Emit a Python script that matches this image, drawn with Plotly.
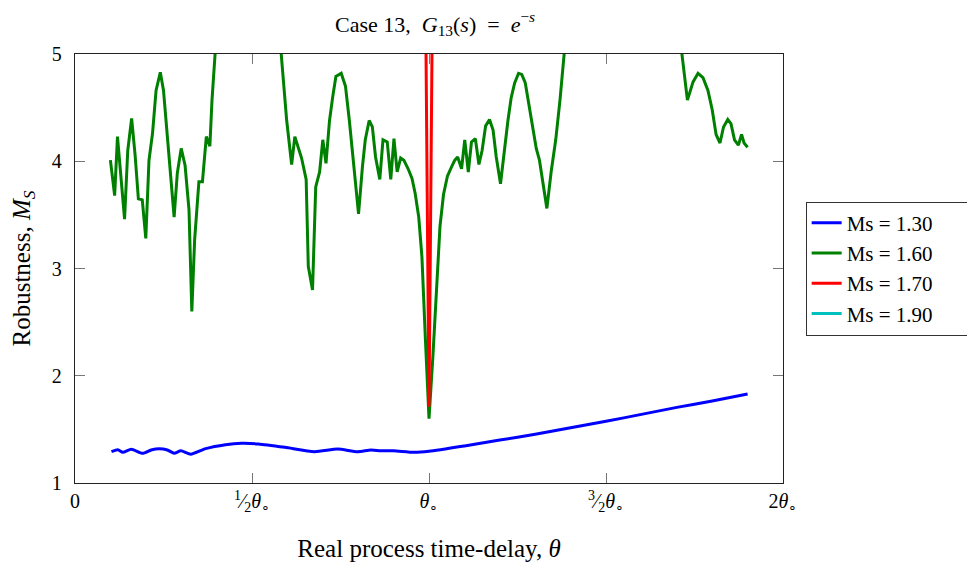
import plotly.graph_objects as go

# theta in units of theta_o
blue_x = [0.103, 0.121, 0.135, 0.159, 0.191, 0.215, 0.238, 0.261, 0.280, 0.299, 0.327, 0.369,
          0.425, 0.471, 0.518, 0.593, 0.677, 0.742, 0.798, 0.836, 0.864, 0.900, 0.957, 1.000,
          1.100, 1.200, 1.300, 1.400, 1.500, 1.600, 1.700, 1.800, 1.900]
blue_y = [1.292, 1.310, 1.286, 1.314, 1.277, 1.308, 1.320, 1.308, 1.277, 1.300, 1.268, 1.320,
          1.357, 1.370, 1.364, 1.333, 1.292, 1.317, 1.292, 1.308, 1.300, 1.300, 1.286, 1.295,
          1.345, 1.400, 1.455, 1.515, 1.575, 1.640, 1.705, 1.765, 1.830]

green_x = [0.100, 0.112, 0.120, 0.130, 0.140, 0.149, 0.160, 0.170, 0.179, 0.190, 0.200, 0.209,
           0.219, 0.229, 0.241, 0.250, 0.269, 0.280, 0.289, 0.300, 0.311, 0.322, 0.330, 0.338,
           0.350, 0.360, 0.371, 0.381, 0.387, 0.400, 0.420, 0.460, 0.500, 0.540, 0.570, 0.598,
           0.612, 0.621, 0.640, 0.653, 0.659, 0.671, 0.680, 0.691, 0.700, 0.709, 0.719, 0.728,
           0.737, 0.752, 0.764, 0.775, 0.789, 0.801, 0.812, 0.820, 0.831, 0.840, 0.849, 0.861,
           0.870, 0.882, 0.892, 0.901, 0.910, 0.920, 0.929, 0.941, 0.952, 0.961, 0.971, 0.980,
           0.990, 1.000, 1.011, 1.022, 1.031, 1.041, 1.052, 1.064, 1.073, 1.081, 1.092, 1.101,
           1.111, 1.120, 1.131, 1.141, 1.150, 1.160, 1.171, 1.181, 1.190, 1.202, 1.212, 1.223,
           1.232, 1.242, 1.253, 1.262, 1.272, 1.284, 1.293, 1.303, 1.312, 1.322, 1.333, 1.345,
           1.358, 1.370, 1.390, 1.450, 1.550, 1.650, 1.700, 1.730, 1.746, 1.760, 1.774, 1.788,
           1.800, 1.811, 1.822, 1.832, 1.844, 1.853, 1.863, 1.874, 1.883, 1.890, 1.900]
green_y = [4.01, 3.68, 4.23, 3.85, 3.46, 4.10, 4.40, 4.05, 3.65, 3.64, 3.28, 4.01,
           4.26, 4.66, 4.83, 4.66, 3.86, 3.48, 3.89, 4.12, 3.96, 3.55, 2.60, 3.27,
           3.81, 3.81, 4.23, 4.14, 4.57, 5.25, 6.20, 6.80, 7.00, 6.40, 5.50, 4.38,
           3.97, 4.23, 4.03, 3.83, 3.02, 2.80, 3.76, 3.90, 4.20, 3.98, 4.38, 4.60,
           4.79, 4.82, 4.70, 4.38, 3.89, 3.51, 3.95, 4.20, 4.38, 4.32, 4.04, 3.83,
           4.20, 4.18, 3.83, 4.21, 3.90, 4.03, 4.01, 3.93, 3.84, 3.70, 3.48, 3.11,
           2.33, 1.60, 2.18, 2.89, 3.39, 3.69, 3.86, 3.95, 4.01, 4.04, 3.93, 4.20,
           3.90, 4.18, 4.21, 3.97, 4.10, 4.33, 4.39, 4.29, 4.04, 3.79, 4.10, 4.38,
           4.59, 4.73, 4.82, 4.81, 4.73, 4.48, 4.29, 4.12, 4.01, 3.81, 3.56, 3.90,
           4.20, 4.57, 5.30, 6.50, 7.00, 6.20, 5.40, 4.57, 4.74, 4.82, 4.78, 4.66,
           4.48, 4.25, 4.17, 4.32, 4.39, 4.35, 4.20, 4.15, 4.25, 4.17, 4.13]

red_x = [0.990, 1.000, 1.010]
red_y = [5.63, 1.71, 5.60]

# Ms = 1.90 has nothing inside the plotted range
cyan_x = [None]
cyan_y = [None]

series = [
    ('Ms = 1.30', blue_x, blue_y, '#0000ff', 'spline'),
    ('Ms = 1.60', green_x, green_y, '#008000', 'linear'),
    ('Ms = 1.70', red_x, red_y, '#ff0000', 'linear'),
    ('Ms = 1.90', cyan_x, cyan_y, '#00bfbf', 'linear'),
]

tick_vals = [0, 0.5, 1, 1.5, 2]
tick_text = ['0',
             '<sup>1</sup>\u2044<sub>2</sub><i>θ</i><sub>∘</sub>',
             '<i>θ</i><sub>∘</sub>',
             '<sup>3</sup>\u2044<sub>2</sub><i>θ</i><sub>∘</sub>',
             '2<i>θ</i><sub>∘</sub>']

FONT = 'Liberation Serif'

fig = go.Figure()
for name, xs, ys, color, shape in series:
    fig.add_trace(go.Scatter(x=xs, y=ys, mode='lines', name=name + '\u2002\u2002\u2002', legendgroup=name,
                             line=dict(color=color, width=3, shape=shape, smoothing=0.6)))

fig.update_xaxes(range=[0, 2], tickvals=tick_vals, ticktext=tick_text, tickfont=dict(size=20),
                 showline=True, linecolor='#222', linewidth=1.3, mirror='allticks',
                 ticks='inside', ticklen=10, tickcolor='#777', showgrid=False, zeroline=False,
                 title=dict(text='Real process time-delay, <i>θ</i>', standoff=25))
fig.update_yaxes(range=[1, 5], tickvals=[1, 2, 3, 4, 5], tickfont=dict(size=20),
                 showline=True, linecolor='#222', linewidth=1.3, mirror='allticks',
                 ticks='inside', ticklen=10, tickcolor='#777', showgrid=False, zeroline=False,
                 ticklabelstandoff=8,
                 title=dict(text='Robustness, <i>M</i><sub><i>S</i></sub>', standoff=14))

# the page body adds 8px around the figure, margins are set to make up for it
fig.update_layout(
    width=975, height=568,
    margin=dict(l=62, r=199, t=46, b=93),
    plot_bgcolor='white', paper_bgcolor='white',
    font=dict(family=FONT, size=21, color='black'),
    title=dict(text='Case 13,  <i>G</i><sub>13</sub>(<i>s</i>)  =  <i>e</i><sup>−<i>s</i></sup>',
               x=0.438, xanchor='center', y=0.972, yanchor='middle', font=dict(size=22)),
    legend=dict(x=1.032, y=0.5, xanchor='left', yanchor='middle',
                bordercolor='#333', borderwidth=1, bgcolor='white', tracegroupgap=0,
                font=dict(size=21)),
)

fig.write_html('out.html')
